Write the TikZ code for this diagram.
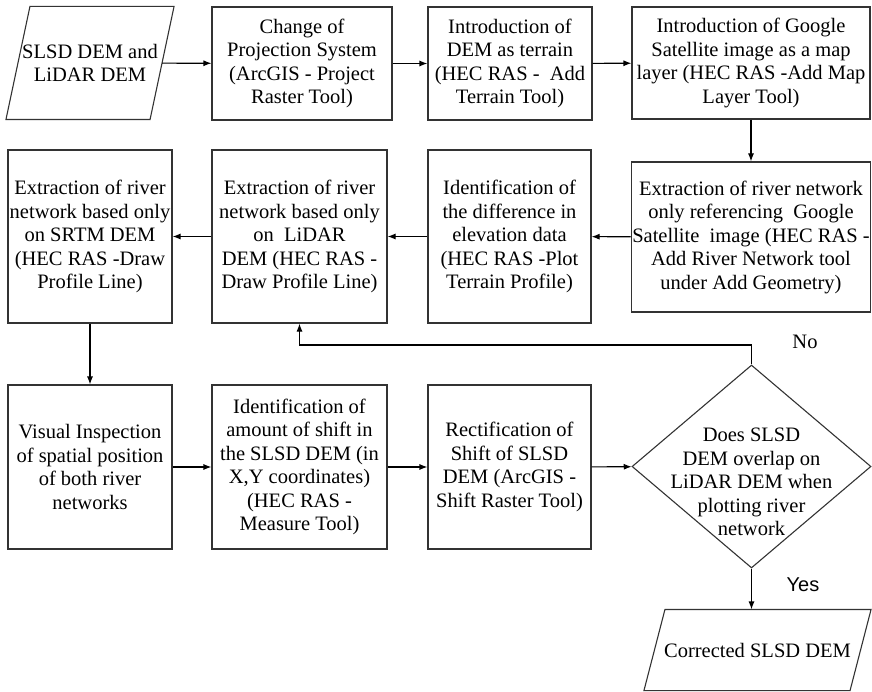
\documentclass[tikz,border=0pt]{standalone}
\usepackage{fontspec}
\setmainfont{Liberation Serif}
\newfontfamily\labelsans{Liberation Sans}
\usetikzlibrary{shapes.geometric,arrows.meta,calc}

\begin{document}
\begin{tikzpicture}[x=1pt, y=-1pt,
		font=\fontsize{20.5}{23.5}\selectfont,
		line width=1.1pt,
		>={Latex[length=8pt,width=6pt]},
		box/.style={rectangle, draw=black!80, align=center, inner sep=1pt},
		io/.style={rectangle, align=center, inner sep=1pt},
		decision/.style={diamond, draw=black!80, inner sep=0pt}]
				\useasboundingbox (0,0) rectangle (872,692);
				% top row
				\node[io,
				minimum width = 143pt,
				minimum height = 112pt] (1) at(90,63){SLSD DEM and\\LiDAR DEM};
				\draw[black!80] ($(1.north west)+(12,0)$) -- ($(1.north east)+(12,0)$)
					-- ($(1.south east)+(-12,0)$) -- ($(1.south west)+(-12,0)$) -- cycle;
				\node[box,
				minimum width = 180pt,
				minimum height = 113pt] (2) at(302,63.5){Change of\\Projection System\\(ArcGIS - Project\\Raster Tool)};
				\node[box,
				minimum width = 164pt,
				minimum height = 113pt] (3) at(510,63.5){Introduction of\\DEM as terrain\\(HEC RAS -\ \ Add\\Terrain Tool)};
				\node[box,
				minimum width = 238pt,
				minimum height = 112pt] (4) at(751,63){Introduction of Google\\Satellite image as a map\\layer (HEC RAS -Add Map\\Layer Tool)};
				% middle row
				\node[box,
				minimum width = 238pt,
				minimum height = 150pt] (5) at(751,237){Extraction of river network\\only referencing\ \ Google\\Satellite\ \ image (HEC RAS -\\Add River Network tool\\under Add Geometry)};
				\node[box,
				minimum width = 163pt,
				minimum height = 173pt] (6) at(509.5,236.5){Identification of\\the difference in\\elevation data\\(HEC RAS -Plot\\Terrain Profile)};
				\node[box,
				minimum width = 175pt,
				minimum height = 173pt] (7) at(299.5,236.5){Extraction of river\\network based only\\on\ \ LiDAR\\DEM (HEC RAS -\\Draw Profile Line)};
				\node[box,
				minimum width = 164pt,
				minimum height = 173pt] (8) at(90,236.5){Extraction of river\\network based only\\on SRTM DEM\\(HEC RAS -Draw\\Profile Line)};
				% bottom row
				\node[box,
				minimum width = 164pt,
				minimum height = 164pt] (9) at(90,467){Visual Inspection\\of spatial position\\of both river\\networks};
				\node[box,
				minimum width = 175pt,
				minimum height = 164pt] (10) at(299.5,467){Identification of\\amount of shift in\\the SLSD DEM (in\\X,Y coordinates)\\(HEC RAS -\\Measure Tool)};
				\node[box,
				minimum width = 163pt,
				minimum height = 164pt] (11) at(509.5,467){Rectification of\\Shift of SLSD\\DEM (ArcGIS -\\Shift Raster Tool)};
				\node[decision,
				minimum width = 239pt,
				minimum height = 203pt] (12) at(751.5,466.5){};
				\node[align=center, inner sep=0pt] (12t) at(751.5,482){Does SLSD\\DEM overlap on\\LiDAR DEM when\\plotting river\\network};
				\node[io,
				minimum width = 205pt,
				minimum height = 80pt] (13) at(757.5,650){Corrected SLSD DEM};
				\draw[black!80] ($(13.north west)+(10.5,0)$) -- ($(13.north east)+(10.5,0)$)
					-- ($(13.south east)+(-10.5,0)$) -- ($(13.south west)+(-10.5,0)$) -- cycle;
				% answers
				\node (no) at(805,342){No};
				\node[font=\labelsans\fontsize{20}{24}\selectfont] (yes) at(803,585){Yes};
				\coordinate (back) at(751.5,345);
				\draw[->] (1) -- (2);
				\draw[->] (2) -- (3);
				\draw[->] (3) -- (4);
				\draw[->] (4) -- (5);
				\draw[->] (5) -- (6);
				\draw[->] (6) -- (7);
				\draw[->] (7) -- (8);
				\draw[->] (8) -- (9);
				\draw[->] (9) -- (10);
				\draw[->] (10) -- (11);
				\draw[->] (11) -- (12);
				\draw[->] (12.north) -- (back) -| (7.south);
				\draw[->] (12.south) -- (12.south |- 13.north);
			\end{tikzpicture}
\end{document}
